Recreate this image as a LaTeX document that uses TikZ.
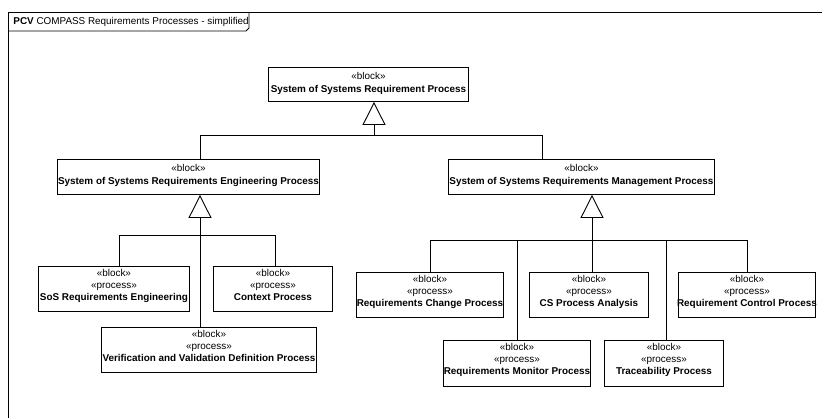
\documentclass[tikz,border=0pt]{standalone}
\usepackage{fontspec}
\setmainfont{Liberation Sans}
\usetikzlibrary{positioning,arrows.meta}

\tikzset{
  blocco/.style 2 args={draw, anchor=north west, minimum width=#1, minimum height=#2, inner sep=0pt},
  testo/.style={align=center, inner sep=0pt, font=\fontsize{9.9}{12}\selectfont},
  eredita/.style={-{Triangle[open,length=23pt,width=23pt]}},
}

\begin{document}
\begin{tikzpicture}[x=1pt,y=-1pt,line width=0.9pt]
\useasboundingbox (0,0) rectangle (822,418);

        % Disegna la cornice e la linguetta del titolo
        \draw (8,418) -- (8,12) -- (822,12);
        \draw (8,31) -- (246,31) -- (249,28) -- (249,12);
        \node[testo, anchor=west] (titolo) at (13,21.5) {\textbf{PCV} COMPASS Requirements Processes - simplified};

        % Disegna i blocchi
        \node[blocco={200}{34}] (sosrp) at (268,67) {};
        \node[blocco={262}{35}] (sosrep) at (57,159) {};
        \node[blocco={266}{35}] (sosrmp) at (448,159) {};
        \node[blocco={151}{45}] (sosre) at (38,266) {};
        \node[blocco={119}{45}] (ctx) at (213,266) {};
        \node[blocco={215}{45}] (vv) at (101,327) {};
        \node[blocco={147}{45}] (chg) at (356,272) {};
        \node[blocco={119}{45}] (csa) at (529,272) {};
        \node[blocco={137}{45}] (rcp) at (678,272) {};
        \node[blocco={147}{46}] (mon) at (443,340) {};
        \node[blocco={119}{46}] (trc) at (604,340) {};

        % Scrive i testi dentro i blocchi
        \node[testo, below=4.5pt of sosrp.north] (sosrp-t) {«block»\\[1pt]\textbf{System of Systems Requirement Process}};
        \node[testo, below=4.5pt of sosrep.north] (sosrep-t) {«block»\\[1pt]\textbf{System of Systems Requirements Engineering Process}};
        \node[testo, below=4.5pt of sosrmp.north] (sosrmp-t) {«block»\\[1pt]\textbf{System of Systems Requirements Management Process}};
        \foreach \n/\t in {sosre/SoS Requirements Engineering, ctx/Context Process,
                           vv/Verification and Validation Definition Process,
                           chg/Requirements Change Process, csa/CS Process Analysis,
                           rcp/Requirement Control Process, mon/Requirements Monitor Process,
                           trc/Traceability Process} {
          \node[testo, below=2.5pt of \n.north] (\n-t) {«block»\\«process»\\\textbf{\t}};
        }

        % Generalizzazione dal blocco principale
        \coordinate (p0) at (374,135);
        \coordinate (p1) at (200,135);
        \coordinate (p2) at (542,135);
        \draw[eredita] (p0) -- (p0 |- sosrp.south);
        \draw (p1) -- (p2);
        \draw (p1) -- (p1 |- sosrep.north);
        \draw (p2) -- (p2 |- sosrmp.north);

        % Generalizzazione del ramo di ingegneria
        \coordinate (e0) at (200,235);
        \coordinate (e1) at (119,235);
        \coordinate (e2) at (275,235);
        \draw[eredita] (vv.north -| e0) -- (e0 |- sosrep.south);
        \draw (e1) -- (e2);
        \draw (e1) -- (e1 |- sosre.north);
        \draw (e2) -- (e2 |- ctx.north);

        % Generalizzazione del ramo di gestione
        \coordinate (g0) at (592,240);
        \draw[eredita] (g0) -- (g0 |- sosrmp.south);
        \foreach \x/\n in {430/chg,517/mon,592/csa,666/trc,747/rcp} {
          \coordinate (g\n) at (\x,240);
          \draw (g\n) -- (g\n |- \n.north);
        }
        \draw (gchg) -- (grcp);

\end{tikzpicture}
\end{document}
